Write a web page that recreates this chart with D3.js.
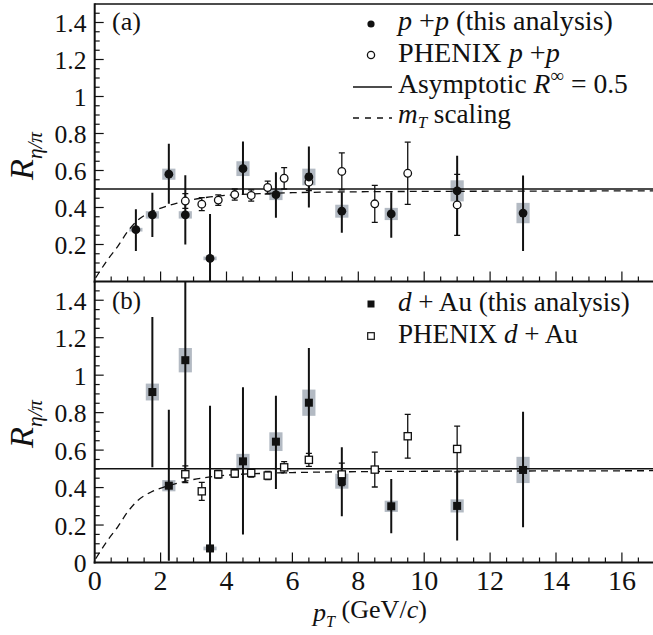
<!DOCTYPE html>
<html><head><meta charset="utf-8">
<script src="https://cdn.jsdelivr.net/npm/d3@7"></script>
<style>
html,body{margin:0;padding:0;background:#fff;}
text{font-family:"Liberation Serif","Times New Roman",serif;fill:#111;}
</style></head>
<body><svg id="c" width="653" height="635"></svg>
<script>
// ---- data ----
const ppX    = [1.25, 1.75, 2.25, 2.75, 3.5, 4.5, 5.5, 6.5, 7.5, 9.0, 11.0, 13.0];
const ppY    = [0.28, 0.36, 0.58, 0.36, 0.125, 0.61, 0.47, 0.565, 0.38, 0.365, 0.49, 0.37];
const ppHi   = [0.39, 0.48, 0.745, 0.575, 0.365, 0.757, 0.59, 0.73, 0.483, 0.483, 0.68, 0.573];
const ppLo   = [0.165, 0.24, 0.42, 0.20, 0.0, 0.47, 0.345, 0.40, 0.263, 0.236, 0.25, 0.165];
const ppSys  = [0.01, 0.02, 0.03, 0.02, 0.01, 0.04, 0.03, 0.045, 0.035, 0.033, 0.057, 0.055];

const phPPX  = [2.75, 3.25, 3.75, 4.25, 4.75, 5.25, 5.75, 6.5, 7.5, 8.5, 9.5, 11.0];
const phPPY  = [0.435, 0.418, 0.44, 0.47, 0.465, 0.508, 0.558, 0.537, 0.595, 0.42, 0.585, 0.414];
const phPPE  = [0.04, 0.035, 0.028, 0.03, 0.03, 0.035, 0.058, 0.045, 0.1, 0.1, 0.168, 0.165];

const daX    = [1.75, 2.25, 2.75, 3.5, 4.5, 5.5, 6.5, 7.5, 9.0, 11.0, 13.0];
const daY    = [0.91, 0.41, 1.08, 0.075, 0.54, 0.645, 0.853, 0.434, 0.30, 0.302, 0.494];
const daHi   = [1.31, 0.816, 1.6, 0.837, 0.935, 0.89, 1.145, 0.615, 0.446, 0.49, 0.805];
const daLo   = [0.508, 0.01, 0.428, 0.0, 0.149, 0.393, 0.544, 0.247, 0.156, 0.117, 0.188];
const daSys  = [0.045, 0.03, 0.065, 0.01, 0.04, 0.05, 0.07, 0.04, 0.03, 0.035, 0.07];

const phDAX  = [2.75, 3.25, 3.75, 4.25, 4.75, 5.25, 5.75, 6.5, 7.5, 8.5, 9.5, 11.0];
const phDAY  = [0.471, 0.38, 0.471, 0.475, 0.478, 0.464, 0.508, 0.548, 0.47, 0.496, 0.674, 0.606];
const phDAE  = [0.045, 0.048, 0.02, 0.02, 0.022, 0.022, 0.03, 0.035, 0.06, 0.093, 0.117, 0.122];

const mtX    = [0.03, 0.4, 0.7, 1.0, 1.3, 1.7, 2.1, 2.5, 3.0, 3.5, 4.0, 5.0, 6.0, 7.0, 8.0, 10.0, 12.0, 17.0];
const mtY    = [0.02, 0.12, 0.19, 0.27, 0.33, 0.375, 0.402, 0.423, 0.443, 0.457, 0.466, 0.475, 0.48, 0.483, 0.485, 0.487, 0.488, 0.49];

const asymptote = 0.5;
const xTicks = [0, 2, 4, 6, 8, 10, 12, 14, 16];
const yTicksA = [0.2, 0.4, 0.6, 0.8, 1, 1.2, 1.4];
const yTicksB = [0, 0.2, 0.4, 0.6, 0.8, 1, 1.2, 1.4];

// ---- layout ----
const svg = d3.select("#c");
const x = d3.scaleLinear().domain([0, 17]).range([94.7, 94.7 + 17 * 32.95]);
const panels = [
  {id: "a", y: d3.scaleLinear().domain([0, 1.5]).range([281.5, 4]), yt: yTicksA, label: "(a)", labY: 30, rlabY: 156},
  {id: "b", y: d3.scaleLinear().domain([0, 1.5]).range([562.5, 281.5]), yt: yTicksB, label: "(b)", labY: 309, rlabY: 424}
];
const GRAY = "#b3bac3";

function fit(t, w) {
  const L = t.node().getComputedTextLength();
  const fs = parseFloat(t.attr("font-size"));
  if (L > 0) t.attr("font-size", fs * w / L);
  return t;
}
function probeSize(str, w) {
  const pr = svg.append("text").attr("font-size", 26).text(str);
  fit(pr, w);
  const s = parseFloat(pr.attr("font-size"));
  pr.remove();
  return s;
}
const XTICKFS = probeSize("10", 28);
const YTICKFS = probeSize("0.2", 32);

function numFmt(v){ return v === 0 ? "0" : (Math.round(v*10)%10===0 ? String(Math.round(v)) : d3.format(".1f")(v)); }

panels.forEach((p, pi) => {
  const y = p.y;
  const g = svg.append("g");
  const [y0, y1] = y.range();
  g.append("clipPath").attr("id", "clip" + p.id).append("rect")
    .attr("x", x(0)).attr("y", y1).attr("width", x(17) - x(0)).attr("height", y0 - y1);
  const plot = g.append("g").attr("clip-path", `url(#clip${p.id})`);

  const isA = pi === 0;
  const fX = isA ? ppX : daX, fY = isA ? ppY : daY, fHi = isA ? ppHi : daHi, fLo = isA ? ppLo : daLo, fS = isA ? ppSys : daSys;
  const oX = isA ? phPPX : phDAX, oY = isA ? phPPY : phDAY, oE = isA ? phPPE : phDAE;

  plot.selectAll("rect.sys").data(fX).enter().append("rect")
    .attr("x", (d) => x(d - 0.2)).attr("width", x(0.4) - x(0))
    .attr("y", (d, i) => y(fY[i] + fS[i])).attr("height", (d, i) => y(fY[i] - fS[i]) - y(fY[i] + fS[i]))
    .attr("fill", GRAY);

  plot.append("line").attr("x1", x(0)).attr("x2", x(17)).attr("y1", y(asymptote)).attr("y2", y(asymptote))
    .attr("stroke", "#111").attr("stroke-width", 1.5);
  const line = d3.line().x(d => x(d[0])).y(d => y(d[1])).curve(d3.curveMonotoneX);
  plot.append("path").attr("d", line(mtX.map((v, i) => [v, mtY[i]])))
    .attr("fill", "none").attr("stroke", "#111").attr("stroke-width", 1.3).attr("stroke-dasharray", "7,5");

  oX.forEach((v, i) => {
    const cx = x(v);
    plot.append("line").attr("x1", cx).attr("x2", cx).attr("y1", y(oY[i] + oE[i])).attr("y2", y(oY[i] - oE[i]))
      .attr("stroke", "#111").attr("stroke-width", 1.3);
    [oY[i] + oE[i], oY[i] - oE[i]].forEach(e => {
      plot.append("line").attr("x1", cx - 3).attr("x2", cx + 3).attr("y1", y(e)).attr("y2", y(e))
        .attr("stroke", "#111").attr("stroke-width", 1.3);
    });
  });
  fX.forEach((v, i) => {
    plot.append("line").attr("x1", x(v)).attr("x2", x(v)).attr("y1", y(fHi[i])).attr("y2", y(fLo[i]))
      .attr("stroke", "#111").attr("stroke-width", 2);
  });
  oX.forEach((v, i) => {
    if (isA) plot.append("circle").attr("cx", x(v)).attr("cy", y(oY[i])).attr("r", 3.8)
      .attr("fill", "#fff").attr("stroke", "#111").attr("stroke-width", 1.3);
    else plot.append("rect").attr("x", x(v) - 3.6).attr("y", y(oY[i]) - 3.6).attr("width", 7.2).attr("height", 7.2)
      .attr("fill", "#fff").attr("stroke", "#111").attr("stroke-width", 1.3);
  });
  fX.forEach((v, i) => {
    if (isA) plot.append("circle").attr("cx", x(v)).attr("cy", y(fY[i])).attr("r", 4.4).attr("fill", "#111");
    else plot.append("rect").attr("x", x(v) - 4).attr("y", y(fY[i]) - 4).attr("width", 8).attr("height", 8).attr("fill", "#111");
  });

  // axes
  const ax = g.append("g").attr("stroke", "#111");
  ax.append("line").attr("x1", x(0)).attr("x2", x(0)).attr("y1", y1 - (isA ? 0.7 : 0)).attr("y2", y0 + 1).attr("stroke-width", 2);
  ax.append("line").attr("x1", x(0) - 1).attr("x2", 653).attr("y1", y0).attr("y2", y0).attr("stroke-width", isA ? 1.8 : 2);
  if (isA) ax.append("line").attr("x1", x(0)).attr("x2", 653).attr("y1", y1).attr("y2", y1).attr("stroke-width", 1.5);
  d3.range(1, 30).map(k => k * 0.05).forEach(v => {
    const major = Math.abs(v / 0.2 - Math.round(v / 0.2)) < 1e-6;
    ax.append("line").attr("x1", x(0)).attr("x2", x(0) + (major ? 9 : 5)).attr("y1", y(v)).attr("y2", y(v)).attr("stroke-width", 1.2);
  });
  d3.range(1, 34).map(k => k * 0.5).forEach(v => {
    const major = Math.abs(v / 2 - Math.round(v / 2)) < 1e-6;
    ax.append("line").attr("x1", x(v)).attr("x2", x(v)).attr("y1", y0).attr("y2", y0 - (major ? 10 : 5)).attr("stroke-width", 1.2);
  });
  g.selectAll("text.yt").data(p.yt).enter().append("text")
    .attr("x", 86.5).attr("y", d => y(d) + 9.5).attr("text-anchor", "end").attr("font-size", YTICKFS).text(numFmt);
  fit(g.append("text").attr("x", 112).attr("y", p.labY).attr("font-size", 26).text(p.label), 29);
  const yt = g.append("text").attr("transform", `translate(33,${p.rlabY}) rotate(-90)`).attr("text-anchor", "middle").attr("font-size", 26);
  yt.append("tspan").attr("font-style", "italic").text("R");
  yt.append("tspan").attr("font-style", "italic").attr("font-size", "62%").attr("dy", "0.4em").text("η/π");
  fit(yt, 48);
});

// x tick labels
const yb = panels[1].y;
svg.selectAll("text.xt").data(xTicks).enter().append("text")
  .attr("x", d => x(d)).attr("y", yb(0) + 27.5).attr("text-anchor", "middle").attr("font-size", XTICKFS).text(d => d);
// x title
const xt = svg.append("text").attr("x", 313).attr("y", 621).attr("font-size", 24);
xt.append("tspan").attr("font-style", "italic").text("p");
xt.append("tspan").attr("font-style", "italic").attr("font-size", "62%").attr("dy", "0.35em").text("T");
xt.append("tspan").attr("dy", "-0.35em").text(" (GeV/");
xt.append("tspan").attr("font-style", "italic").text("c");
xt.append("tspan").text(")");
fit(xt, 114);

// legends
const LX = 371, TX = 398;
function legText(yy, parts, w) {
  const t = svg.append("text").attr("x", TX).attr("y", yy).attr("font-size", 27);
  parts.forEach(pt => {
    const s = t.append("tspan").text(pt.t);
    if (pt.i) s.attr("font-style", "italic");
    if (pt.sz) s.attr("font-size", pt.sz);
    if (pt.dy) s.attr("dy", pt.dy);
  });
  return fit(t, w);
}
svg.append("circle").attr("cx", LX).attr("cy", 24).attr("r", 3.6).attr("fill", "#111");
legText(30, [{t: "p", i: 1}, {t: " +"}, {t: "p", i: 1}, {t: " (this analysis)"}], 215);
svg.append("circle").attr("cx", LX).attr("cy", 55).attr("r", 3.6).attr("fill", "#fff").attr("stroke", "#111").attr("stroke-width", 1.3);
legText(61.5, [{t: "PHENIX "}, {t: "p", i: 1}, {t: " +"}, {t: "p", i: 1}], 162);
svg.append("line").attr("x1", 353).attr("x2", 392).attr("y1", 87).attr("y2", 87).attr("stroke", "#111").attr("stroke-width", 1.5);
legText(93, [{t: "Asymptotic "}, {t: "R", i: 1}, {t: "∞", sz: "70%", dy: "-0.55em"}, {t: "  = 0.5", dy: "0.385em"}], 230);
svg.append("line").attr("x1", 353).attr("x2", 392).attr("y1", 118).attr("y2", 118).attr("stroke", "#111").attr("stroke-width", 1.3).attr("stroke-dasharray", "6,6");
legText(122.5, [{t: "m", i: 1}, {t: "T", i: 1, sz: "62%", dy: "0.35em"}, {t: " scaling", dy: "-0.217em"}], 113);
svg.append("rect").attr("x", LX - 3.5).attr("y", 304 - 3.5).attr("width", 7).attr("height", 7).attr("fill", "#111");
legText(311, [{t: "d", i: 1}, {t: " + Au (this analysis)"}], 232);
svg.append("rect").attr("x", LX - 3.3).attr("y", 336 - 3.3).attr("width", 6.6).attr("height", 6.6).attr("fill", "#fff").attr("stroke", "#111").attr("stroke-width", 1.2);
legText(343, [{t: "PHENIX "}, {t: "d", i: 1}, {t: " + Au"}], 180);
</script></body></html>
